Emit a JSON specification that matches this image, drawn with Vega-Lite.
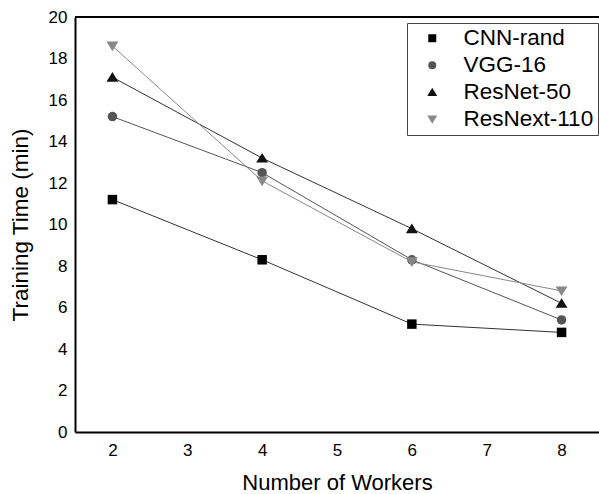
{
  "$schema": "https://vega.github.io/schema/vega-lite/v6.json",
  "autosize": "none",
  "width": 524,
  "height": 415,
  "padding": {"left": 75, "top": 17, "right": 0, "bottom": 62},
  "background": "white",
  "config": {
    "view": {"stroke": null},
    "font": "Liberation Sans",
    "axis": {"labelFont": "Liberation Sans", "titleFont": "Liberation Sans", "labelColor": "#000", "titleColor": "#000", "titleFontWeight": "normal", "grid": false, "ticks": false, "domainColor": "#000", "domainWidth": 2}
  },
  "data": {
    "values": [
      {"workers": 2, "time": 11.2, "model": "CNN-rand"},
      {"workers": 4, "time": 8.3, "model": "CNN-rand"},
      {"workers": 6, "time": 5.2, "model": "CNN-rand"},
      {"workers": 8, "time": 4.8, "model": "CNN-rand"},
      {"workers": 2, "time": 15.2, "model": "VGG-16"},
      {"workers": 4, "time": 12.5, "model": "VGG-16"},
      {"workers": 6, "time": 8.3, "model": "VGG-16"},
      {"workers": 8, "time": 5.4, "model": "VGG-16"},
      {"workers": 2, "time": 17.1, "model": "ResNet-50"},
      {"workers": 4, "time": 13.2, "model": "ResNet-50"},
      {"workers": 6, "time": 9.8, "model": "ResNet-50"},
      {"workers": 8, "time": 6.2, "model": "ResNet-50"},
      {"workers": 2, "time": 18.6, "model": "ResNext-110"},
      {"workers": 4, "time": 12.1, "model": "ResNext-110"},
      {"workers": 6, "time": 8.2, "model": "ResNext-110"},
      {"workers": 8, "time": 6.8, "model": "ResNext-110"}
    ]
  },
  "encoding": {
    "x": {"field": "workers", "type": "quantitative", "title": "Number of Workers",
      "scale": {"domain": [1.5, 8.5], "nice": false, "zero": false},
      "axis": {"values": [2, 3, 4, 5, 6, 7, 8], "labelFontSize": 17, "titleFontSize": 22, "labelPadding": 10, "titlePadding": 14}},
    "y": {"field": "time", "type": "quantitative", "title": "Training Time (min)",
      "scale": {"domain": [0, 20], "nice": false},
      "axis": {"values": [0, 2, 4, 6, 8, 10, 12, 14, 16, 18, 20], "labelFontSize": 17, "titleFontSize": 22.5, "labelPadding": 8, "titlePadding": 16}}
  },
  "layer": [
    {
      "mark": {"type": "rule", "strokeWidth": 2, "color": "#000"},
      "encoding": {"y": {"datum": 20}, "x": null}
    },
    {
      "mark": {"type": "line", "strokeWidth": 1},
      "encoding": {
        "detail": {"field": "model"},
        "stroke": {"field": "model", "type": "nominal", "legend": null,
          "scale": {"domain": ["ResNext-110", "ResNet-50", "VGG-16", "CNN-rand"], "range": ["#888888", "#333333", "#555555", "#333333"]}}
      }
    },
    {
      "mark": {"type": "point", "filled": true, "opacity": 1},
      "encoding": {
        "fill": {"field": "model", "type": "nominal",
          "scale": {"domain": ["CNN-rand", "VGG-16", "ResNet-50", "ResNext-110"], "range": ["#000000", "#555555", "#111111", "#888888"]},
          "legend": {"title": null, "orient": "none", "legendX": 332, "legendY": 6, "labelFontSize": 22.5, "labelColor": "#000", "labelFont": "Liberation Sans",
            "strokeColor": "#444", "fillColor": "white", "padding": 4, "rowPadding": 4, "symbolOffset": 10, "labelOffset": 20, "symbolSize": 64}},
        "shape": {"field": "model", "type": "nominal",
          "scale": {"domain": ["CNN-rand", "VGG-16", "ResNet-50", "ResNext-110"], "range": ["square", "circle", "M0,-1.1L1.25,0.95H-1.25Z", "M0,1.1L1.25,-0.95H-1.25Z"]}},
        "size": {"value": 90}
      }
    }
  ]
}
